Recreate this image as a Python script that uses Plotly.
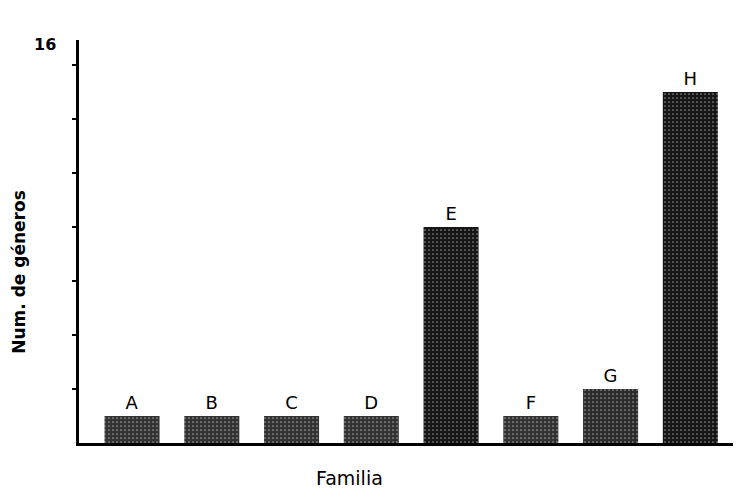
import plotly.graph_objects as go

familias = ["A", "B", "C", "D", "E", "F", "G", "H"]
num_generos = [1, 1, 1, 1, 8, 1, 2, 13]
tick_values = [2, 4, 6, 8, 10, 12, 14]
top_label = "16"

bar_colors = ["#333333", "#333333", "#333333", "#333333", "#161616", "#333333", "#2c2c2c", "#161616"]

fig = go.Figure(go.Bar(
    x=familias,
    y=num_generos,
    width=0.69,
    text=familias,
    textposition="outside",
    cliponaxis=False,
    textfont=dict(size=18, color="black", family="DejaVu Sans"),
    marker=dict(
        color=bar_colors,
        line=dict(width=0),
        pattern=dict(shape=".", fgcolor="#c8c8c8", size=4, solidity=0.15, fillmode="overlay"),
    ),
    showlegend=False,
))

fig.update_layout(
    width=733, height=480,
    margin=dict(l=71, r=6, t=32, b=45),
    paper_bgcolor="white", plot_bgcolor="white",
    font=dict(family="DejaVu Sans", color="black"),
    bargap=0.31,
    xaxis=dict(
        range=[-0.665, 7.56],
        showline=True, linecolor="black", linewidth=2.5,
        showticklabels=False, ticks="", showgrid=False, zeroline=False,
    ),
    yaxis=dict(
        range=[0, 14.93],
        showline=True, linecolor="black", linewidth=2.5,
        tickvals=tick_values, ticktext=[""] * len(tick_values),
        ticks="outside", ticklen=4, tickwidth=2, tickcolor="black",
        showgrid=False, zeroline=False,
    ),
    annotations=[
        dict(text="<b>" + top_label + "</b>", xref="paper", yref="paper", x=-0.052, y=0.988,
             xanchor="center", yanchor="middle", showarrow=False,
             font=dict(size=16, color="black", family="DejaVu Sans")),
        dict(text="<b>Num. de géneros</b>", xref="paper", yref="paper", x=-0.092, y=0.424,
             textangle=-90, xanchor="center", yanchor="middle", showarrow=False,
             font=dict(size=17, color="black", family="DejaVu Sans")),
        dict(text="Familia", xref="paper", yref="paper", x=0.413, y=-0.087,
             xanchor="center", yanchor="middle", showarrow=False,
             font=dict(size=19, color="black", family="DejaVu Sans")),
    ],
)

fig.write_html("out.html")
